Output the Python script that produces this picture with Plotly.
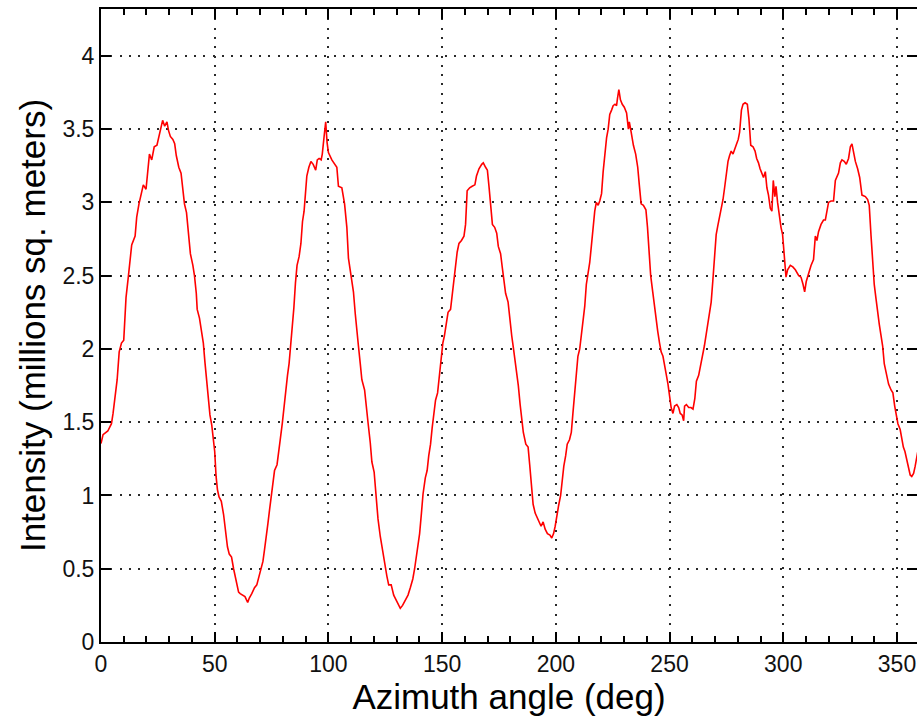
import plotly.graph_objects as go

angle = [
    0, 0.9, 3, 4.6, 5.3, 6, 7.1, 8, 9, 10, 11, 12, 12.7, 13.5, 15, 15.7, 16.7, 17.6, 18.6, 19.8,
    20.4, 21.3, 22.3, 23.4, 24.6, 25.3, 26.3, 27.1, 28, 29, 29.7, 30.5, 31.6, 32.4, 33.1, 34.2,
    35.2, 36.1, 36.7, 37.6, 38.3, 39.3, 40.4, 41.1, 41.9, 42.3, 43.3, 44.2, 45, 45.7, 46.5, 47.2,
    47.9, 48.7, 49.4, 50, 50.6, 51.2, 51.9, 52.9, 53.9, 54.9, 55.6, 56.4, 57.4, 58.3, 58.9, 59.8,
    60.5, 61.2, 62.3, 63.3, 64.5, 65.2, 66.3, 67.5, 68.5, 69.4, 70.4, 71.2, 71.9, 72.6, 73.4, 74.1,
    74.9, 75.6, 76.3, 77.4, 78.1, 78.8, 79.7, 80.5, 81.2, 82, 82.7, 83.3, 84, 84.8, 85.5, 86.2,
    87.1, 87.9, 88.6, 89.3, 89.9, 90.5, 91.4, 92.3, 93.3, 94.4, 95.1, 95.9, 96.8, 97.3, 98.1, 98.8,
    99.4,
    100, 101.5, 103, 103.7, 104.4, 105.9, 107.1, 108.1, 108.8, 110, 111, 111.8, 112.5, 113.2, 114,
    114.7, 115.9, 116.5, 117.4, 118.4, 119.1, 120.1, 120.9, 121.8, 122.8, 123.8, 124.7, 125.7,
    126.5, 127.6, 128.7, 129.9, 130.9, 131.6, 132.6, 133.8, 135, 136, 137.1, 137.9, 138.7, 139.4,
    140.1, 140.9, 141.6, 142.6, 143.4, 144.1, 144.9, 145.6, 146.3, 147.1, 148, 148.8, 149.6, 150.3,
    151, 151.8, 152.6, 153.7, 154.4, 155.1, 155.9, 156.6, 157.4, 158.5, 159.6, 160.3, 161, 162.1,
    163.2, 164.4, 165.1, 166.2, 167.4, 168.1, 169.1, 169.9, 170.6, 171.3, 172.1, 173.1, 174, 174.7,
    175.7, 176.5, 177.2, 177.9, 179, 179.7, 180.6, 181.3, 182.1, 182.8, 183.5, 184.3, 185, 185.7,
    186.8, 187.8, 188.5, 189.3, 190, 190.9, 191.9, 192.6, 193.5, 194.4, 195.3, 196.3, 197.4, 198.2,
    199, 199.7, 200.4,
    201.2, 202.1, 202.7, 203.5, 204.3, 205, 206, 206.8, 207.5, 208.3, 209, 209.7, 210.5, 211.2,
    211.9, 212.7, 213.4, 214.2, 214.9, 215.6, 216.4, 217.1, 217.8, 218.6, 219.3, 220.1, 220.8,
    221.5, 222.3, 223, 223.7, 224.5, 225.2, 226, 226.7, 227.1, 227.7, 228.4, 229.2, 230.1, 231.1,
    231.9, 232.3, 233, 234.1, 235.1, 236, 236.7, 237.5, 238.5, 239.6, 240.3, 241, 241.7, 242.6,
    243.4, 244.1, 244.8, 245.6, 246.3, 247.1, 247.8, 248.5, 249.3, 250, 250.7, 251.5, 252.2, 253.2,
    254, 254.7, 255.5, 256.2, 256.6, 257.4, 258.4, 259.4, 260.3, 261.1, 261.8, 262.8, 263.6, 264.3,
    265.3, 266.1, 266.8, 267.6, 268.3, 269, 269.8, 270.5, 271.2, 272, 272.7, 273.5, 274.2, 274.9,
    275.7, 276.4, 277.1, 277.9, 278.8, 279.5, 280.2, 280.8, 281.6, 282.3, 283.2, 284.2, 284.9,
    285.7, 286.7, 287.6, 288.3, 289.1, 289.8, 290.6, 291.3, 292.1, 292.8, 293.5, 294.3, 295, 295.6,
    296.3, 296.8, 297.5, 298.3, 299, 299.7,
    300.6, 301.2, 301.9, 303.1, 304.2, 305.3, 306.8, 307.8, 308.7, 309.4, 310.1, 311.1, 312.2,
    313.3, 314.1, 314.8, 315.5, 316.6, 317.7, 318.5, 319.2, 319.9, 321, 322.1, 322.9, 323.6, 324.3,
    325.1, 325.8, 326.8, 327.7, 328.7, 329.5, 330.2, 330.9, 331.7, 332.7, 333.6, 334.6, 336.1,
    337.1, 337.8, 338.6, 339.3, 340, 340.8, 341.5, 342.2, 342.9, 343.7, 344.4, 345.3, 346.3, 347.4,
    348.2, 349, 349.7, 350.4, 351.4, 352.1, 352.8, 353.5, 354.3, 355, 355.8, 356.5, 357.3, 358,
    358.7, 359.5,
]

intensity = [
    1.354, 1.415, 1.44, 1.49, 1.56, 1.66, 1.79, 1.98, 2.04, 2.06, 2.35, 2.49, 2.60, 2.71, 2.77, 2.90,
    2.99, 3.05, 3.12, 3.09, 3.20, 3.33, 3.29, 3.38, 3.39, 3.44, 3.51, 3.56, 3.52, 3.55, 3.49, 3.45,
    3.43, 3.40, 3.32, 3.24, 3.20, 3.04, 2.99, 2.93, 2.79, 2.65, 2.57, 2.50, 2.38, 2.27, 2.21, 2.13,
    2.04, 1.91, 1.77, 1.62, 1.55, 1.48, 1.40, 1.30, 1.13, 1.04, 0.99, 0.96, 0.87, 0.74, 0.65, 0.60,
    0.58, 0.50, 0.45, 0.40, 0.34, 0.33, 0.32, 0.31, 0.27, 0.30, 0.33, 0.37, 0.39, 0.44, 0.50, 0.55,
    0.63, 0.70, 0.81, 0.90, 0.99, 1.09, 1.17, 1.21, 1.28, 1.38, 1.49, 1.62, 1.70, 1.82, 1.90, 2.01,
    2.11, 2.28, 2.45, 2.57, 2.63, 2.72, 2.87, 2.94, 3.06, 3.18, 3.24, 3.28, 3.26, 3.22, 3.29, 3.30,
    3.29, 3.33, 3.45, 3.55, 3.41,
    3.34, 3.29, 3.26, 3.24, 3.11, 3.10, 2.99, 2.83, 2.62, 2.50, 2.39, 2.24, 2.10, 2.02, 1.90, 1.79,
    1.72, 1.61, 1.50, 1.36, 1.23, 1.16, 1.01, 0.84, 0.72, 0.62, 0.55, 0.45, 0.39, 0.39, 0.32, 0.28,
    0.25, 0.23, 0.25, 0.29, 0.32, 0.37, 0.43, 0.50, 0.58, 0.66, 0.74, 0.88, 1.01, 1.12, 1.17, 1.27,
    1.35, 1.46, 1.57, 1.65, 1.70, 1.82, 1.92, 2.04, 2.09, 2.19, 2.25, 2.27, 2.36, 2.45, 2.55, 2.66,
    2.72, 2.74, 2.77, 2.85, 3.08, 3.10, 3.11, 3.12, 3.18, 3.23, 3.26, 3.27, 3.24, 3.22, 3.11, 2.99,
    2.85, 2.83, 2.79, 2.70, 2.65, 2.55, 2.44, 2.38, 2.32, 2.20, 2.09, 2.01, 1.92, 1.84, 1.75, 1.62,
    1.52, 1.43, 1.35, 1.33, 1.21, 1.04, 0.94, 0.88, 0.84, 0.82, 0.79, 0.82, 0.77, 0.74, 0.73, 0.71,
    0.74, 0.79, 0.87,
    0.93, 1.00, 1.10, 1.20, 1.27, 1.35, 1.38, 1.43, 1.56, 1.72, 1.83, 1.95, 2.00, 2.09, 2.20, 2.29,
    2.44, 2.52, 2.59, 2.70, 2.83, 2.94, 3.00, 2.98, 3.01, 3.06, 3.21, 3.34, 3.44, 3.50, 3.60, 3.63,
    3.66, 3.67, 3.66, 3.71, 3.77, 3.70, 3.67, 3.65, 3.61, 3.50, 3.55, 3.49, 3.39, 3.33, 3.24, 3.12,
    2.99, 2.98, 2.95, 2.83, 2.66, 2.50, 2.39, 2.28, 2.20, 2.12, 2.04, 1.98, 1.95, 1.90, 1.83, 1.76,
    1.68, 1.60, 1.56, 1.61, 1.62, 1.60, 1.56, 1.55, 1.51, 1.61, 1.62, 1.60, 1.60, 1.59, 1.66, 1.78,
    1.82, 1.88, 1.95, 2.02, 2.10, 2.17, 2.26, 2.32, 2.46, 2.63, 2.78, 2.84, 2.90, 2.96, 3.02, 3.10,
    3.20, 3.28, 3.32, 3.35, 3.33, 3.38, 3.40, 3.43, 3.48, 3.63, 3.67, 3.68, 3.67, 3.57, 3.39, 3.38,
    3.35, 3.30, 3.27, 3.23, 3.20, 3.17, 3.21, 3.10, 3.05, 2.96, 2.94, 3.15, 3.04, 3.11, 3.00, 2.90,
    2.83, 2.78,
    2.61, 2.49, 2.54, 2.57, 2.56, 2.54, 2.50, 2.49, 2.44, 2.39, 2.46, 2.52, 2.57, 2.61, 2.77, 2.74,
    2.80, 2.85, 2.88, 2.88, 2.95, 3.00, 3.01, 3.01, 3.15, 3.17, 3.20, 3.27, 3.29, 3.28, 3.26, 3.30,
    3.38, 3.40, 3.34, 3.28, 3.23, 3.17, 3.05, 3.04, 3.02, 2.98, 2.77, 2.57, 2.44, 2.34, 2.24, 2.17,
    2.10, 2.02, 1.90, 1.83, 1.76, 1.72, 1.70, 1.61, 1.55, 1.49, 1.45, 1.38, 1.33, 1.30, 1.24, 1.19,
    1.14, 1.13, 1.15, 1.20, 1.27, 1.33,
]

x_title = "Azimuth angle (deg)"
y_title = "Intensity (millions sq. meters)"
x_ticks = [0, 50, 100, 150, 200, 250, 300, 350]
y_ticks = [0, 0.5, 1, 1.5, 2, 2.5, 3, 3.5, 4]
y_tick_text = ["0", "0.5", "1", "1.5", "2", "2.5", "3", "3.5", "4"]

FONT = "Liberation Sans, Arial, Helvetica, sans-serif"
X_RANGE = [0, 358.8]
Y_RANGE = [0, 4.32]
GRID = dict(showgrid=True, gridcolor="#2a2a2a", gridwidth=2, griddash="2px,7.3px")

fig = go.Figure()
fig.add_trace(go.Scatter(
    x=angle, y=intensity, mode="lines",
    line=dict(color="#ff0000", width=1.6),
    showlegend=False, hoverinfo="skip",
))
# empty helper trace that carries the right-hand tick marks
fig.add_trace(go.Scatter(x=[], y=[], yaxis="y2", showlegend=False))

fig.update_layout(
    width=917, height=720,
    margin=dict(l=101, r=0, t=9, b=78, autoexpand=False),
    paper_bgcolor="white", plot_bgcolor="white",
    font=dict(family=FONT, color="black"),
    xaxis=dict(
        range=X_RANGE, tickmode="array", tickvals=x_ticks,
        ticks="inside", ticklen=10, tickwidth=2, tickcolor="black",
        minor=dict(dtick=10, ticks="inside", ticklen=6, tickwidth=2, tickcolor="black", showgrid=False),
        showline=True, linecolor="black", linewidth=2, mirror="ticks",
        zeroline=False, tickfont=dict(size=23, family=FONT, color="#111"),
        title=dict(text=x_title, font=dict(size=35, family=FONT, color="black"), standoff=8),
        automargin=False,
        **GRID,
    ),
    yaxis=dict(
        range=Y_RANGE, tickmode="array", tickvals=y_ticks, ticktext=y_tick_text,
        ticks="inside", ticklen=10, tickwidth=2, tickcolor="black",
        showline=True, linecolor="black", linewidth=2, mirror=False,
        zeroline=False, tickfont=dict(size=23, family=FONT, color="#111"),
        title=dict(text=y_title, font=dict(size=35, family=FONT, color="black"), standoff=6),
        automargin=False,
        **GRID,
    ),
    yaxis2=dict(
        overlaying="y", side="right", anchor="x", range=Y_RANGE,
        tickmode="array", tickvals=y_ticks, showticklabels=False,
        ticks="inside", ticklen=10, tickwidth=2, tickcolor="black",
        showline=False, showgrid=False, zeroline=False,
    ),
)

fig.write_html("out.html")
